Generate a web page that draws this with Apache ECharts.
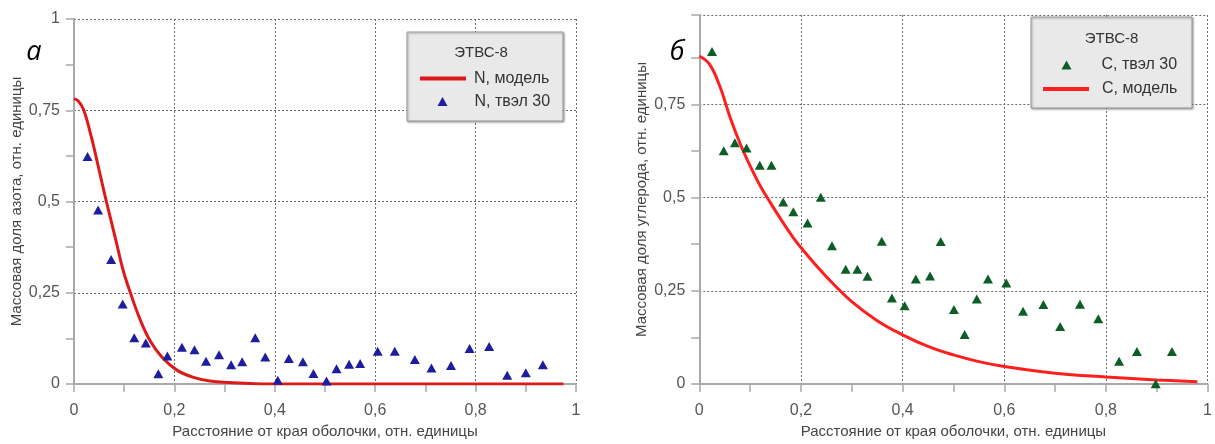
<!DOCTYPE html>
<html>
<head>
<meta charset="utf-8">
<script src="https://cdn.jsdelivr.net/npm/echarts@6/dist/echarts.min.js"></script>
<style>
html,body{margin:0;padding:0;background:#fff;}
#c{width:1215px;height:444px;}
</style>
</head>
<body>
<div id="c"></div>
<script>
// ---- data: panel a (nitrogen) ----
var nPointsX = [0.027,0.048,0.074,0.097,0.120,0.143,0.168,0.186,0.215,0.240,0.263,0.289,0.313,0.335,0.361,0.381,0.406,0.428,0.456,0.477,0.503,0.523,0.548,0.570,0.605,0.639,0.679,0.712,0.751,0.788,0.827,0.863,0.900,0.934];
var nPointsY = [0.623,0.477,0.341,0.219,0.127,0.112,0.028,0.077,0.101,0.094,0.062,0.080,0.053,0.061,0.127,0.074,0.010,0.070,0.061,0.029,0.008,0.042,0.054,0.056,0.090,0.090,0.067,0.044,0.051,0.097,0.103,0.024,0.031,0.053];
var nModelX = [0, 0.008, 0.019, 0.035, 0.052, 0.065, 0.082, 0.098, 0.113, 0.131, 0.151, 0.175, 0.205, 0.238, 0.271, 0.311, 0.360, 0.450, 0.600, 0.800, 0.975];
var nModelY = [0.782, 0.776, 0.752, 0.674, 0.574, 0.497, 0.402, 0.311, 0.247, 0.179, 0.120, 0.074, 0.038, 0.018, 0.008, 0.004, 0.001, 0, 0, 0, 0];

// ---- data: panel b (carbon) ----
var cPointsX = [0.025,0.048,0.070,0.093,0.119,0.142,0.165,0.185,0.213,0.239,0.261,0.288,0.311,0.331,0.359,0.379,0.404,0.426,0.454,0.475,0.501,0.522,0.546,0.568,0.604,0.637,0.677,0.710,0.749,0.785,0.826,0.861,0.898,0.930];
var cPointsY = [0.892,0.626,0.647,0.633,0.587,0.587,0.488,0.462,0.432,0.501,0.371,0.308,0.308,0.289,0.383,0.231,0.210,0.282,0.290,0.382,0.200,0.133,0.228,0.282,0.271,0.195,0.213,0.154,0.214,0.175,0.061,0.087,0.001,0.087];
var cModelX = [0, 0.02, 0.04, 0.06, 0.08, 0.10, 0.12, 0.14, 0.16, 0.18, 0.20, 0.25, 0.30, 0.35, 0.40, 0.45, 0.50, 0.55, 0.60, 0.70, 0.80, 0.90, 0.98];
var cModelY = [0.880, 0.858, 0.800, 0.718, 0.646, 0.585, 0.531, 0.486, 0.443, 0.402, 0.366, 0.288, 0.221, 0.170, 0.132, 0.101, 0.078, 0.060, 0.047, 0.029, 0.019, 0.011, 0.006];

// ---- texts ----
var xTitle = 'Расстояние от края оболочки, отн. единицы';
var yTitleN = 'Массовая доля азота, отн. единицы';
var yTitleC = 'Массовая доля углерода, отн. единицы';
var legendTitle = 'ЭТВС-8';
var nModelName = 'N, модель', nPointsName = 'N, твэл 30';
var cModelName = 'C, модель', cPointsName = 'C, твэл 30';

function zip(xs, ys){ return xs.map(function(x,i){ return [x, ys[i]]; }); }
function fmt(v){ return String(+v.toFixed(3)).replace('.', ','); }

var FONT = 'Liberation Sans, Arial, sans-serif';
var axisColor = '#a8a8a8';
var gridLine = {show:true, lineStyle:{type:[2,2], color:'#6a6a6a', width:1}};

function xAxis(gi){
  return {
    type:'value', gridIndex:gi, min:0, max:1, interval:0.2,
    name:xTitle, nameLocation:'middle', nameGap:40,
    nameTextStyle:{fontFamily:FONT, fontSize:15, color:'#444'},
    axisLine:{show:true, onZero:false, lineStyle:{color:axisColor, width:2}},
    axisTick:{show:true, length:8, lineStyle:{color:axisColor, width:1.5}},
    minorTick:{show:true, splitNumber:2, length:8, lineStyle:{color:axisColor, width:1.5}},
    splitLine:gridLine,
    axisLabel:{formatter:fmt, fontFamily:FONT, fontSize:16, color:'#555', margin:19}
  };
}
function yAxis(gi, max, name, showMax){
  return {
    type:'value', gridIndex:gi, min:0, max:max, interval:0.25,
    name:name, nameLocation:'middle', nameGap:50,
    nameTextStyle:{fontFamily:FONT, fontSize:15, color:'#444'},
    axisLine:{show:true, onZero:false, lineStyle:{color:axisColor, width:2}},
    axisTick:{show:true, length:8, lineStyle:{color:axisColor, width:1.5}},
    minorTick:{show:true, splitNumber:2, length:8, lineStyle:{color:axisColor, width:1.5}},
    splitLine:gridLine,
    axisLabel:{formatter:fmt, fontFamily:FONT, fontSize:16, color:'#555', margin:14, showMaxLabel:showMax}
  };
}
function lineLegend(name, left, rowY, pad){
  return {data:[{name:name, icon:'rect'}], left:left, top:rowY-6.5, padding:0,
    itemWidth:46, itemHeight:4, z:8, selectedMode:false,
    textStyle:{fontFamily:FONT, fontSize:16, color:'#333', lineHeight:4, padding:[0,0,0,pad]}};
}
function markLegend(name, centerX, rowY, pad){
  return {data:[{name:name, icon:'triangle'}], left:centerX-5, top:rowY-6.5, padding:0,
    itemWidth:10, itemHeight:9, z:8, selectedMode:false,
    textStyle:{fontFamily:FONT, fontSize:16, color:'#333', lineHeight:9, padding:[0,0,0,pad]}};
}

var chart = echarts.init(document.getElementById('c'), null, {renderer:'canvas'});
chart.setOption({
  animation:false,
  backgroundColor:'#fff',
  grid:[
    {left:74, top:19, width:502, height:366.5},
    {left:699.3, top:15, width:512.4, height:369.3}
  ],
  xAxis:[xAxis(0), xAxis(1)],
  yAxis:[yAxis(0, 1, yTitleN, true), yAxis(1, 0.99, yTitleC, false)],
  legend:[
    lineLegend(nModelName, 420, 77, 3),
    markLegend(nPointsName, 442.5, 100, 22),
    markLegend(cPointsName, 1066.5, 63.5, 25),
    lineLegend(cModelName, 1043, 87.5, 8)
  ],
  graphic:[
    {type:'rect', z:6, shape:{x:407, y:32, width:156, height:89},
     style:{fill:'#e9e9e9', stroke:'#9a9a9a', lineWidth:1, shadowBlur:2, shadowOffsetX:1, shadowOffsetY:1, shadowColor:'rgba(0,0,0,0.35)'}},
    {type:'text', z:7, x:481, y:53, style:{text:legendTitle, fontFamily:FONT, fontSize:15, fill:'#333', align:'center', verticalAlign:'middle'}},
    {type:'rect', z:6, shape:{x:1031, y:17, width:161, height:91},
     style:{fill:'#e9e9e9', stroke:'#9a9a9a', lineWidth:1, shadowBlur:2, shadowOffsetX:1, shadowOffsetY:1, shadowColor:'rgba(0,0,0,0.35)'}},
    {type:'text', z:7, x:1111.5, y:39, style:{text:legendTitle, fontFamily:FONT, fontSize:15, fill:'#333', align:'center', verticalAlign:'middle'}},
    {type:'text', z:7, x:34, y:39, style:{text:'а', fontFamily:'Open Sans, sans-serif', fontStyle:'italic', fontSize:27, fill:'#000', align:'center', verticalAlign:'alphabetic'}},
    {type:'text', z:7, x:677, y:39, style:{text:'б', fontFamily:'Open Sans, sans-serif', fontStyle:'italic', fontSize:27, fill:'#000', align:'center', verticalAlign:'alphabetic'}}
  ],
  series:[
    {name:nModelName, type:'line', xAxisIndex:0, yAxisIndex:0, data:zip(nModelX, nModelY),
     symbol:'none', showSymbol:false, smooth:0.4, z:3,
     lineStyle:{color:'#dd1a1a', width:3}, itemStyle:{color:'#dd1a1a'}},
    {name:nPointsName, type:'scatter', xAxisIndex:0, yAxisIndex:0, data:zip(nPointsX, nPointsY),
     symbol:'triangle', symbolSize:[10,9], z:4,
     itemStyle:{color:'#1d1d9e', opacity:1}},
    {name:cPointsName, type:'scatter', xAxisIndex:1, yAxisIndex:1, data:zip(cPointsX, cPointsY),
     symbol:'triangle', symbolSize:[10,9], z:4,
     itemStyle:{color:'#0d5e26', opacity:1}},
    {name:cModelName, type:'line', xAxisIndex:1, yAxisIndex:1, data:zip(cModelX, cModelY),
     symbol:'none', showSymbol:false, smooth:0.4, z:3,
     lineStyle:{color:'#ff1f1f', width:3}, itemStyle:{color:'#ff1f1f'}}
  ]
});
</script>
</body>
</html>
